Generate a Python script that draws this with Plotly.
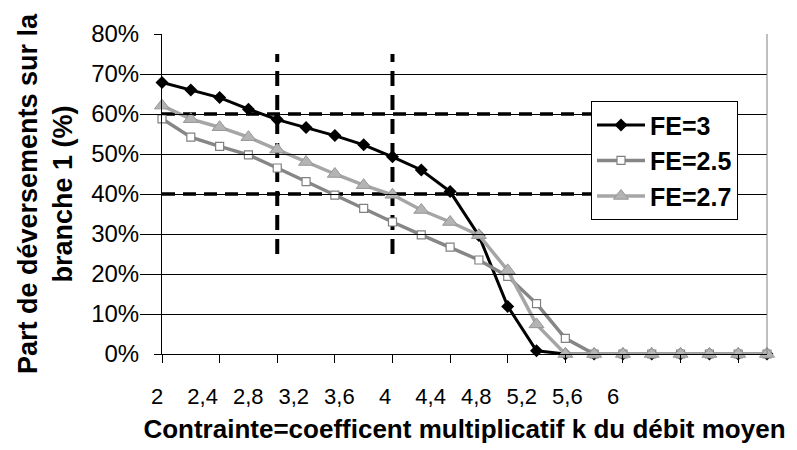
import plotly.graph_objects as go

# contrainte k (categories)
k_values = [2.0, 2.2, 2.4, 2.6, 2.8, 3.0, 3.2, 3.4, 3.6, 3.8, 4.0,
            4.2, 4.4, 4.6, 4.8, 5.0, 5.2, 5.4, 5.6, 5.8, 6.0, 6.2]

# part de deversements (%)
fe3 = [67.9, 66.0, 64.1, 61.2, 58.6, 56.6, 54.6, 52.3, 49.3, 46.0, 40.6,
       29.6, 11.9, 0.8, 0, 0, 0, 0, 0, 0, 0, 0]
fe25 = [58.8, 54.2, 51.9, 49.8, 46.5, 43.1, 39.7, 36.4, 33.0, 29.8, 26.7,
        23.5, 19.4, 12.6, 3.9, 0, 0, 0, 0, 0, 0, 0]
fe27 = [62.1, 58.7, 56.7, 54.2, 51.1, 48.0, 45.0, 42.2, 39.8, 36.0, 33.0,
        29.7, 20.9, 7.4, 0, 0, 0, 0, 0, 0, 0, 0]

tick_vals = [2.0, 2.4, 2.8, 3.2, 3.6, 4.0, 4.4, 4.8, 5.2, 5.6, 6.0]
tick_text = ['2', '2,4', '2,8', '3,2', '3,6', '4', '4,4', '4,8', '5,2', '5,6', '6']

# dashed reference lines
k_limits = [2.8, 3.6]
part_limits = [40, 60]

FONT = 'Liberation Sans, Arial, sans-serif'

fig = go.Figure()

fig.add_trace(go.Scatter(x=k_values, y=fe3, name='FE=3', mode='lines+markers',
                         line=dict(color='black', width=3),
                         marker=dict(symbol='diamond', size=10, color='black'),
                         legendgroup='a', cliponaxis=False))
fig.add_trace(go.Scatter(x=k_values, y=fe25, name='FE=2.5', mode='lines+markers',
                         line=dict(color='#868686', width=3.5),
                         marker=dict(symbol='square', size=8, color='white',
                                     line=dict(color='#808080', width=1.2)),
                         legendgroup='b', cliponaxis=False))
fig.add_trace(go.Scatter(x=k_values, y=fe27, name='FE=2.7', mode='lines+markers',
                         line=dict(color='#A6A6A6', width=3.5),
                         marker=dict(symbol='triangle-up', size=13, color='#B4B4B4',
                                     line=dict(color='#969696', width=1)),
                         legendgroup='c', cliponaxis=False))
# carrier for the label axis
fig.add_trace(go.Scatter(x=[], y=[], xaxis='x2', showlegend=False, hoverinfo='skip'))

for k in k_limits:
    fig.add_shape(type='line', xref='x', yref='y', x0=k, x1=k, y0=25, y1=75,
                  line=dict(color='black', width=4, dash='15px,9px'), layer='below')
for p in part_limits:
    fig.add_shape(type='line', xref='x', yref='y', x0=2.0, x1=5.0, y0=p, y1=p,
                  line=dict(color='black', width=3.5, dash='13px,8px'), layer='below')
# grey frame on the right
fig.add_shape(type='line', xref='x domain', yref='y domain', x0=1, x1=1, y0=0, y1=1,
              line=dict(color='#808080', width=1))

# the page adds an 8px body margin, so the figure is drawn 8px smaller
fig.update_layout(
    width=789, height=442,
    margin=dict(l=132, r=30, t=24, b=96),
    paper_bgcolor='white', plot_bgcolor='rgba(0,0,0,0)',
    font=dict(family=FONT, color='black'),
    showlegend=True,
    legend=dict(x=0.7193, y=0.79, xanchor='left', yanchor='top',
                bgcolor='white', bordercolor='black', borderwidth=1,
                font=dict(size=25, family=FONT, weight='bold'),
                tracegroupgap=0, traceorder='grouped', itemwidth=48),
    xaxis=dict(domain=[0.0351, 1], range=[2.0, 6.2], tickvals=tick_vals,
               showticklabels=False, ticks='outside', ticklen=8, tickcolor='black',
               showline=True, linecolor='black', linewidth=1, showgrid=False,
               zeroline=False,
               title=dict(text='Contrainte=coefficent multiplicatif k du débit moyen',
                          font=dict(size=26, family=FONT, weight='bold'), standoff=57)),
    xaxis2=dict(domain=[0, 1], range=[1.8509, 7.3509], anchor='y',
                tickvals=tick_vals, ticktext=tick_text, ticks='',
                showline=False, showgrid=False, zeroline=False,
                tickfont=dict(size=22, family=FONT), ticklabelstandoff=27),
    yaxis=dict(range=[0, 80], dtick=10, ticksuffix='%', anchor='x',
               ticks='outside', ticklen=7, tickcolor='black',
               showline=True, linecolor='black', linewidth=1,
               showgrid=True, gridcolor='black', gridwidth=1, zeroline=False,
               tickfont=dict(size=24, family=FONT), ticklabelstandoff=10,
               title=dict(text='Part de déversements sur la<br>branche 1 (%)',
                          font=dict(size=27, family=FONT, weight='bold'), standoff=10)),
)

fig.write_html('out.html')
